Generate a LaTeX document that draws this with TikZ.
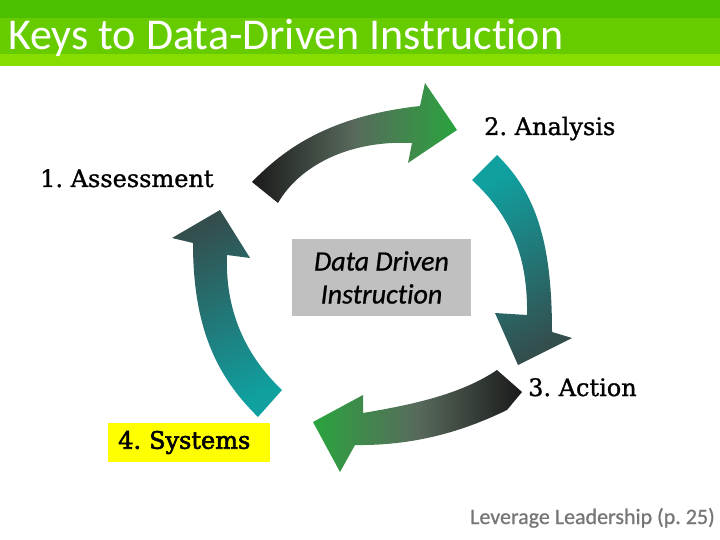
\documentclass[tikz,border=0pt]{standalone}
\usepackage{fontspec}
\setmainfont{DejaVu Serif}
\setsansfont{Carlito}[Ligatures=NoCommon]
\newfontfamily\stepfont{DejaVu Serif}[FakeBold=1.2]
\newfontfamily\sysfont{DejaVu Serif}[FakeBold=2.4]
\newfontfamily\notefont{Carlito}[Ligatures=NoCommon, FakeBold=0.8]
\usepackage{xcolor}
\usetikzlibrary{positioning}
\frenchspacing

\definecolor{titlegreenA}{RGB}{76,192,0}
\definecolor{titlegreenB}{RGB}{102,204,0}
\definecolor{titlegreenC}{RGB}{136,221,0}
\definecolor{arrowdark}{RGB}{26,26,26}
\definecolor{arrowmid}{RGB}{88,106,92}
\definecolor{arrowgreen}{RGB}{42,164,62}
\definecolor{arrowteal}{RGB}{16,160,160}
\definecolor{arrowslate}{RGB}{52,78,78}
\definecolor{hubgray}{RGB}{192,192,192}
\definecolor{notegray}{RGB}{118,118,118}
\definecolor{markyellow}{RGB}{255,255,0}

\tikzset{
  steplabel/.style={
    anchor=base west, inner sep=0pt,
    font=\stepfont\fontsize{24}{28}\selectfont
  },
  hubbox/.style={
    fill=hubgray, minimum width=179pt, minimum height=77pt,
    align=center, font=\notefont\itshape\fontsize{28}{33}\selectfont
  },
  titletext/.style={
    anchor=base west, inner sep=0pt, text=white,
    font=\sffamily\fontsize{44}{44}\selectfont
  },
  sourcetext/.style={
    anchor=base east, inner sep=0pt, text=notegray,
    font=\notefont\fontsize{22}{22}\selectfont
  },
}

\begin{document}
\begin{tikzpicture}[x=1pt, y=-1pt]
  \useasboundingbox (0,0) rectangle (720,540);

  % Title bar
  \fill[titlegreenA] (0,0) rectangle (720,18);
  \fill[titlegreenB] (0,18) rectangle (720,54);
  \fill[titlegreenC] (0,54) rectangle (720,66);
  \node[titletext] (title) at (8,50) {Keys to Data-Driven Instruction};

  % Arrows of the cycle
  \shade[left color=arrowdark, right color=arrowgreen, middle color=arrowmid]
    (252,182) .. controls (285,148) and (330,116) .. (420,106)
    -- (425,83) -- (457,130) -- (408,163) -- (412,143)
    .. controls (350,140) and (300,165) .. (278,203) -- cycle;
  \shade[top color=arrowteal, bottom color=arrowslate, shading angle=30]
    (497,155) .. controls (535,192) and (552,240) .. (552,332)
    -- (572,338) -- (518,365) -- (495,313) -- (527,315)
    .. controls (528,255) and (510,215) .. (472,180) -- cycle;
  \shade[left color=arrowgreen, right color=arrowdark, middle color=arrowmid]
    (497,370) -- (522,392) -- (507,410)
    .. controls (470,428) and (420,446) .. (355,445)
    -- (340,472) -- (313,422) -- (363,395) -- (363,413)
    .. controls (410,405) and (460,395) .. (497,370) -- cycle;
  \shade[top color=arrowslate, bottom color=arrowteal, shading angle=25]
    (258,417) .. controls (215,375) and (193,325) .. (193,243)
    -- (172,238) -- (220,210) -- (250,258) -- (227,255)
    .. controls (225,310) and (245,355) .. (282,390) -- cycle;

  % Centre box
  \node[hubbox] (hub) at (381.5,277.5) {Data Driven\\Instruction};

  % Step labels
  \node[steplabel] (assess) at (40,187) {1. Assessment};
  \node[steplabel] (analysis) at (484,135) {2. Analysis};
  \node[steplabel] (action) at (528,396) {3. Action};
  \node[steplabel, anchor=west, fill=markyellow, inner xsep=10pt,
    text width=142pt, minimum height=39pt, align=left,
    font=\sysfont\fontsize{24}{28}\selectfont]
    (systems) at (108,442.5) {4. Systems};

  % Source
  \node[sourcetext] (source) at (715,524) {Leverage Leadership (p. 25)};
\end{tikzpicture}
\end{document}
